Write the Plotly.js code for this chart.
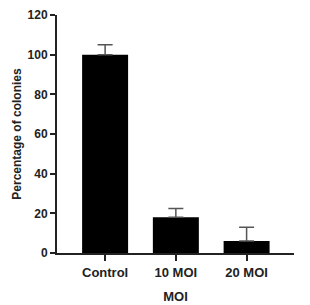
<!DOCTYPE html>
<html>
<head>
<meta charset="utf-8">
<script src="https://cdn.plot.ly/plotly-3.0.1.min.js"></script>
<style>html,body{margin:0;padding:0;background:#fff;}#chart{width:310px;height:305px;}</style>
</head>
<body>
<div id="chart"></div>
<script>
var categories = ["Control", "10 MOI", "20 MOI"];
var values = [100, 18, 6];
var errors = [5, 4.5, 7];
var yTicks = [0, 20, 40, 60, 80, 100, 120];

var fontFam = "Liberation Sans, Arial, sans-serif";
var trace = {
  type: "bar",
  x: categories,
  y: values,
  width: 0.65,
  marker: {color: "#000000", line: {width: 0}},
  error_y: {
    type: "data",
    symmetric: false,
    array: errors,
    arrayminus: [0, 0, 0],
    color: "#555555",
    thickness: 1.5,
    width: 7.5
  },
  hoverinfo: "none"
};
var layout = {
  width: 310,
  height: 305,
  margin: {l: 57, r: 16, t: 15, b: 52},
  paper_bgcolor: "#ffffff",
  plot_bgcolor: "#ffffff",
  showlegend: false,
  font: {family: fontFam, size: 12, color: "#222222"},
  xaxis: {
    type: "category",
    range: [-0.68, 2.67],
    showline: true,
    linecolor: "#222222",
    linewidth: 2,
    ticks: "outside",
    ticklen: 6,
    tickwidth: 2,
    tickcolor: "#222222",
    showgrid: false,
    zeroline: false,
    tickfont: {family: fontFam, size: 13, color: "#222222", weight: "bold"},
    title: {text: "MOI", font: {family: fontFam, size: 13, color: "#222222", weight: "bold"}, standoff: 13}
  },
  yaxis: {
    range: [0, 120],
    tickvals: yTicks,
    ticktext: yTicks.map(String),
    showline: true,
    linecolor: "#222222",
    linewidth: 2,
    ticks: "outside",
    ticklen: 5,
    tickwidth: 2,
    tickcolor: "#222222",
    showgrid: false,
    zeroline: false,
    tickfont: {family: fontFam, size: 12, color: "#222222", weight: "bold"},
    title: {text: "Percentage of colonies", font: {family: fontFam, size: 12, color: "#222222", weight: "bold"}, standoff: 3}
  }
};
Plotly.newPlot("chart", [trace], layout, {displayModeBar: false, staticPlot: true});
</script>
</body>
</html>
